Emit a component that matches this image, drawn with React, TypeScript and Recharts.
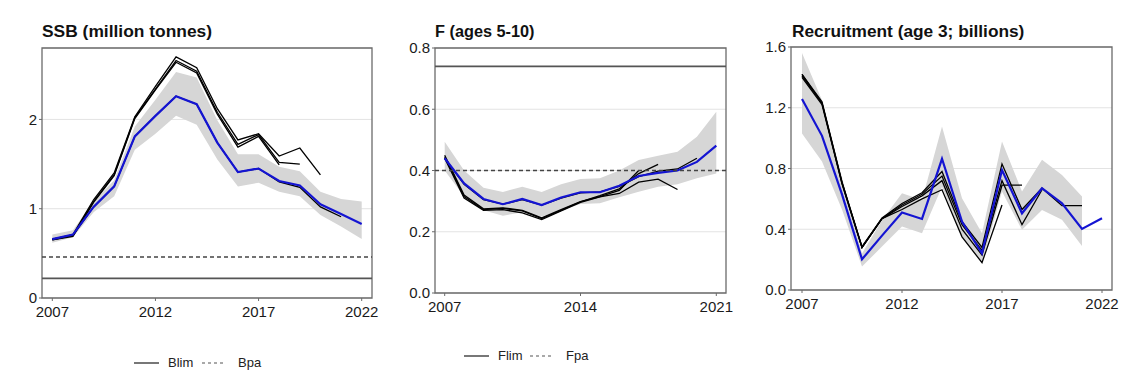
import { ComposedChart, Line, Area, XAxis, YAxis, CartesianGrid, ReferenceLine, ReferenceArea } from "recharts"

// ---- SSB (million tonnes) ----
const ssbYears = [2007, 2008, 2009, 2010, 2011, 2012, 2013, 2014, 2015, 2016, 2017, 2018, 2019, 2020, 2021, 2022]
const ssbEst = [0.66, 0.71, 1.02, 1.25, 1.81, 2.04, 2.26, 2.17, 1.74, 1.41, 1.45, 1.31, 1.26, 1.05, 0.94, 0.83]
const ssbLow = [0.62, 0.68, 0.96, 1.14, 1.66, 1.84, 2.04, 1.94, 1.55, 1.25, 1.29, 1.19, 1.14, 0.93, 0.8, 0.66]
const ssbHigh = [0.71, 0.76, 1.08, 1.32, 1.92, 2.22, 2.53, 2.47, 1.99, 1.61, 1.61, 1.47, 1.42, 1.19, 1.11, 1.08]
const ssbRetro = [
  [0.65, 0.69, 1.07, 1.37, 2.01, 2.33, 2.64, 2.52, 2.06, 1.69, 1.81, 1.49],
  [0.65, 0.7, 1.08, 1.38, 2.02, 2.34, 2.66, 2.54, 2.08, 1.72, 1.83, 1.52, 1.5],
  [0.66, 0.71, 1.1, 1.4, 2.03, 2.37, 2.7, 2.58, 2.12, 1.77, 1.84, 1.59, 1.68, 1.38],
  [0.66, 0.7, 1.02, 1.25, 1.81, 2.04, 2.26, 2.17, 1.74, 1.41, 1.45, 1.3, 1.24, 1.02, 0.91],
]
const blim = 0.22
const bpa = 0.46

// ---- F (ages 5-10) ----
const fYears = [2007, 2008, 2009, 2010, 2011, 2012, 2013, 2014, 2015, 2016, 2017, 2018, 2019, 2020, 2021]
const fEst = [0.44, 0.358, 0.307, 0.29, 0.307, 0.287, 0.312, 0.329, 0.329, 0.35, 0.382, 0.392, 0.4, 0.428, 0.481]
const fLow = [0.4, 0.315, 0.27, 0.252, 0.264, 0.25, 0.269, 0.291, 0.293, 0.313, 0.331, 0.347, 0.355, 0.375, 0.39]
const fHigh = [0.494, 0.4, 0.344, 0.33, 0.347, 0.33, 0.355, 0.372, 0.375, 0.4, 0.434, 0.448, 0.461, 0.51, 0.592]
const fRetro = [
  [0.45, 0.32, 0.275, 0.278, 0.27, 0.245, 0.272, 0.298, 0.315, 0.335, 0.4],
  [0.445, 0.315, 0.272, 0.276, 0.268, 0.243, 0.27, 0.298, 0.318, 0.34, 0.39, 0.42],
  [0.44, 0.31, 0.27, 0.272, 0.262, 0.24, 0.268, 0.296, 0.314, 0.325, 0.362, 0.372, 0.338],
  [0.44, 0.355, 0.305, 0.29, 0.305, 0.287, 0.31, 0.327, 0.33, 0.348, 0.38, 0.398, 0.405, 0.44],
]
const flim = 0.74
const fpa = 0.4

// ---- Recruitment (age 3; billions) ----
const recYears = [2007, 2008, 2009, 2010, 2011, 2012, 2013, 2014, 2015, 2016, 2017, 2018, 2019, 2020, 2021, 2022]
const recEst = [1.257, 1.015, 0.63, 0.202, 0.358, 0.51, 0.468, 0.864, 0.45, 0.242, 0.79, 0.505, 0.67, 0.571, 0.402, 0.472]
const recLow = [1.03, 0.846, 0.53, 0.154, 0.286, 0.418, 0.374, 0.68, 0.35, 0.176, 0.648, 0.396, 0.527, 0.462, 0.29, null]
const recHigh = [1.56, 1.25, 0.74, 0.24, 0.46, 0.637, 0.593, 1.077, 0.604, 0.374, 0.978, 0.648, 0.857, 0.758, 0.615, null]
const recRetro = [
  [1.4, 1.22, 0.7, 0.28, 0.47, 0.53, 0.6, 0.66, 0.35, 0.18, 0.56],
  [1.41, 1.23, 0.7, 0.28, 0.47, 0.55, 0.62, 0.72, 0.4, 0.23, 0.69, 0.69],
  [1.42, 1.23, 0.71, 0.28, 0.47, 0.56, 0.63, 0.75, 0.43, 0.26, 0.72, 0.43, 0.66],
  [1.42, 1.24, 0.71, 0.285, 0.475, 0.57, 0.64, 0.78, 0.45, 0.28, 0.83, 0.53, 0.67, 0.555, 0.555],
]

const BLUE = "#1414d2"
const BOX = "#6b6b6b"
const FONT = "'Liberation Sans', Arial, sans-serif"

function buildRows(years: number[], est: number[], low: (number | null)[], high: (number | null)[], retro: number[][]) {
  return years.map((year, i) => {
    const row: any = { year, est: est[i] }
    row.band = low[i] != null && high[i] != null ? [low[i], high[i]] : null
    retro.forEach((r, k) => {
      row["r" + k] = i < r.length ? r[i] : null
    })
    return row
  })
}

interface PanelProps {
  left: number
  title: string
  titleSize: number
  rows: any[]
  nRetro: number
  xDomain: [number, number]
  xTicks: number[]
  yMax: number
  yTicks: number[]
  yFmt: (v: number) => string
  yWidth: number
  margin: { top: number; right: number; bottom: number; left: number }
  width: number
  solid?: number
  dashed?: number
  titleLeft: number
}

function Panel(p: PanelProps) {
  const tick = { fontSize: 15, fill: "#1a1a1a", fontFamily: FONT }
  return (
    <>
      <div style={{ position: "absolute", left: p.titleLeft, top: 21, fontFamily: FONT, fontWeight: 700, fontSize: p.titleSize, color: "#111", whiteSpace: "nowrap", lineHeight: "20px" }}>
        {p.title}
      </div>
      <div style={{ position: "absolute", left: p.left, top: 0 }}>
        <ComposedChart width={p.width} height={330} data={p.rows} margin={p.margin}>
          <CartesianGrid vertical={false} stroke="#e3e3e3" strokeWidth={1} />
          <XAxis
            dataKey="year"
            type="number"
            domain={p.xDomain}
            ticks={p.xTicks}
            allowDataOverflow
            height={24}
            tickSize={3}
            tickMargin={5}
            tick={tick}
            axisLine={false}
            tickLine={{ stroke: BOX }}
          />
          <YAxis
            type="number"
            domain={[0, p.yMax]}
            ticks={p.yTicks}
            allowDataOverflow
            width={p.yWidth}
            tickSize={3}
            tickMargin={2}
            tick={tick}
            tickFormatter={p.yFmt}
            axisLine={false}
            tickLine={{ stroke: BOX }}
          />
          <Area dataKey="band" stroke="none" fill="#d6d6d6" fillOpacity={1} isAnimationActive={false} connectNulls={false} />
          {Array.from({ length: p.nRetro }).map((_, k) => (
            <Line key={k} dataKey={"r" + k} stroke="#000" strokeWidth={1.3} dot={false} isAnimationActive={false} connectNulls={false} />
          ))}
          <Line dataKey="est" stroke={BLUE} strokeWidth={2.2} dot={false} isAnimationActive={false} />
          {p.dashed != null && <ReferenceLine y={p.dashed} stroke="#444" strokeWidth={1.5} strokeDasharray="4 3" />}
          {p.solid != null && <ReferenceLine y={p.solid} stroke="#555" strokeWidth={1.8} />}
          <ReferenceArea x1={p.xDomain[0]} x2={p.xDomain[1]} y1={0} y2={p.yMax} fill="none" fillOpacity={0} stroke={BOX} strokeWidth={1.3} />
        </ComposedChart>
      </div>
    </>
  )
}

function LegendItem({ x, y, label, dashed }: { x: number; y: number; label: string; dashed?: boolean }) {
  return (
    <>
      <svg style={{ position: "absolute", left: x, top: y - 2 }} width={26} height={4}>
        <line x1={0} y1={2} x2={dashed ? 22 : 25} y2={2} stroke="#555" strokeWidth={dashed ? 1.2 : 1.6} strokeDasharray={dashed ? "3 3" : undefined} />
      </svg>
      <span style={{ position: "absolute", left: x + (dashed ? 36 : 34), top: y - 8, fontFamily: FONT, fontSize: 13, color: "#222", lineHeight: "15px" }}>{label}</span>
    </>
  )
}

export default function App() {
  const ssbRows = buildRows(ssbYears, ssbEst, ssbLow, ssbHigh, ssbRetro)
  const fRows = buildRows(fYears, fEst, fLow, fHigh, fRetro)
  const recRows = buildRows(recYears, recEst, recLow, recHigh, recRetro)

  return (
    <div style={{ position: "relative", width: 1140, height: 385, background: "#fff", overflow: "hidden" }}>
      <style>{`body{margin:0}`}</style>
      <Panel
        left={0}
        titleLeft={42}
        title="SSB (million tonnes)"
        titleSize={17.4}
        rows={ssbRows}
        nRetro={ssbRetro.length}
        xDomain={[2006.5, 2022.5]}
        xTicks={[2007, 2012, 2017, 2022]}
        yMax={2.8}
        yTicks={[0, 1, 2]}
        yFmt={(v) => String(v)}
        yWidth={42}
        width={380}
        margin={{ top: 48, right: 8, bottom: 8, left: 0 }}
        solid={blim}
        dashed={bpa}
      />
      <Panel
        left={380}
        titleLeft={435}
        title="F (ages 5-10)"
        titleSize={16.3}
        rows={fRows}
        nRetro={fRetro.length}
        xDomain={[2006.5, 2021.5]}
        xTicks={[2007, 2014, 2021]}
        yMax={0.8}
        yTicks={[0, 0.2, 0.4, 0.6, 0.8]}
        yFmt={(v) => v.toFixed(1)}
        yWidth={55}
        width={360}
        margin={{ top: 48, right: 14, bottom: 13, left: 0 }}
        solid={flim}
        dashed={fpa}
      />
      <Panel
        left={760}
        titleLeft={792}
        title="Recruitment (age 3; billions)"
        titleSize={17.3}
        rows={recRows}
        nRetro={recRetro.length}
        xDomain={[2006.45, 2022.5]}
        xTicks={[2007, 2012, 2017, 2022]}
        yMax={1.6}
        yTicks={[0, 0.4, 0.8, 1.2, 1.6]}
        yFmt={(v) => v.toFixed(1)}
        yWidth={31}
        width={380}
        margin={{ top: 47, right: 28, bottom: 16, left: 0 }}
      />
      <LegendItem x={134} y={363} label="Blim" />
      <LegendItem x={202} y={363} label="Bpa" dashed />
      <LegendItem x={464} y={356} label="Flim" />
      <LegendItem x={530} y={356} label="Fpa" dashed />
    </div>
  )
}
